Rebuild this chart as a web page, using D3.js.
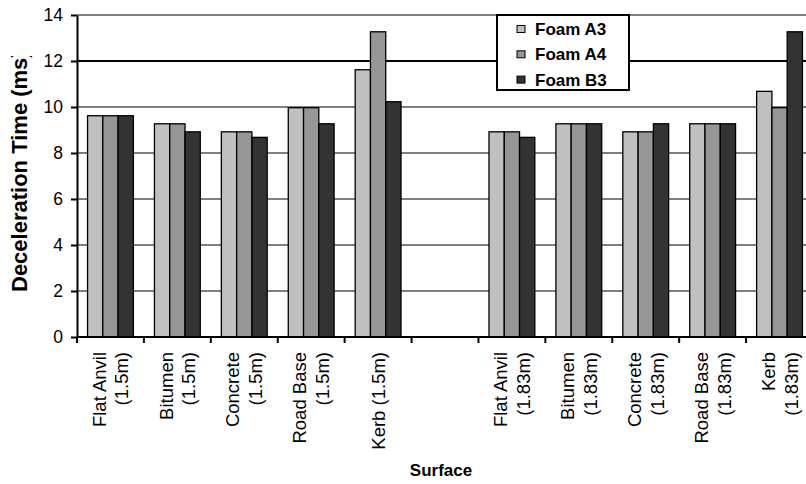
<!DOCTYPE html>
<html>
<head>
<meta charset="utf-8">
<script src="https://cdn.jsdelivr.net/npm/d3@7"></script>
<style>
  body { margin: 0; background: #fff; }
  svg { display: block; }
  text { font-family: "Liberation Sans", Arial, sans-serif; fill: #000; }
</style>
</head>
<body>
<svg id="chart" width="806" height="484"></svg>
<script>
// Surface categories; "\n" marks a line break in the rotated label, "" is the spacer slot
const categories = [
  "Flat Anvil\n(1.5m)", "Bitumen\n(1.5m)", "Concrete\n(1.5m)", "Road Base\n(1.5m)", "Kerb (1.5m)",
  "",
  "Flat Anvil\n(1.83m)", "Bitumen\n(1.83m)", "Concrete\n(1.83m)", "Road Base\n(1.83m)", "Kerb\n(1.83m)"
];
const seriesNames = ["Foam A3", "Foam A4", "Foam B3"];
// Deceleration time (ms) per surface
const foamA3 = [9.62, 9.27, 8.92, 9.97, 11.62, null, 8.92, 9.27, 8.92, 9.27, 10.68];
const foamA4 = [9.62, 9.27, 8.92, 9.97, 13.27, null, 8.92, 9.27, 8.92, 9.27, 9.97];
const foamB3 = [9.62, 8.92, 8.68, 9.27, 10.23, null, 8.68, 9.27, 9.27, 9.27, 13.27];
const yTicks = [0, 2, 4, 6, 8, 10, 12, 14];
const yTitle = "Deceleration Time (ms)";
const xTitle = "Surface";

const seriesValues = [foamA3, foamA4, foamB3];
const seriesColors = ["#c0c0c0", "#969696", "#333333"];

const svg = d3.select("#chart");
const plot = { left: 77, right: 813, top: 15, bottom: 337 };

const x0 = d3.scaleBand().domain(categories).range([plot.left, plot.right]).padding(0);
const x1 = d3.scaleBand().domain(seriesNames).range([0, x0.bandwidth()])
  .paddingInner(0).paddingOuter(0.69);
const y = d3.scaleLinear().domain([0, 14]).range([plot.bottom, plot.top]);

// horizontal gridlines
svg.append("g").selectAll("line")
  .data(yTicks.filter(v => v > 0))
  .join("line")
  .attr("x1", plot.left).attr("x2", plot.right)
  .attr("y1", d => y(d)).attr("y2", d => y(d))
  .attr("stroke", d => d === 14 ? "#808080" : "#000")
  .attr("stroke-width", d => d >= 12 ? 2 : 1);

// bars
const rows = [];
categories.forEach((cat, i) => {
  seriesNames.forEach((s, j) => {
    const v = seriesValues[j][i];
    if (v != null) rows.push({ cat, s, v, color: seriesColors[j] });
  });
});
svg.append("g").selectAll("rect")
  .data(rows)
  .join("rect")
  .attr("x", d => x0(d.cat) + x1(d.s))
  .attr("y", d => y(d.v))
  .attr("width", x1.bandwidth())
  .attr("height", d => y(0) - y(d.v))
  .attr("fill", d => d.color)
  .attr("stroke", "#000")
  .attr("stroke-width", 1.3);

// y axis
const yAxis = svg.append("g")
  .attr("transform", `translate(${plot.left},0)`)
  .call(d3.axisLeft(y).tickValues(yTicks).tickSize(6).tickSizeOuter(0).tickPadding(8));
yAxis.select(".domain").attr("stroke", "#000").attr("stroke-width", 2);
yAxis.selectAll(".tick line").attr("stroke", "#000").attr("stroke-width", 2);
yAxis.selectAll(".tick text")
  .attr("font-family", "Liberation Sans, Arial, sans-serif")
  .attr("font-size", 17.5).attr("fill", "#111");

// x axis line and slot boundary ticks
const bounds = categories.map(c => x0(c)).concat([x0.range()[1]]);
const xAxis = svg.append("g");
xAxis.append("line")
  .attr("x1", plot.left).attr("x2", plot.right)
  .attr("y1", plot.bottom).attr("y2", plot.bottom)
  .attr("stroke", "#000").attr("stroke-width", 2);
xAxis.selectAll("line.tick")
  .data(bounds)
  .join("line").attr("class", "tick")
  .attr("x1", d => d).attr("x2", d => d)
  .attr("y1", plot.bottom).attr("y2", plot.bottom + 6)
  .attr("stroke", "#000").attr("stroke-width", 2);

// rotated category labels
const lineH = 22.8;
categories.forEach(cat => {
  if (!cat) return;
  const lines = cat.split("\n");
  const c = x0(cat) + x0.bandwidth() / 2;
  lines.forEach((ln, i) => {
    const bx = c + (i - (lines.length - 1) / 2) * lineH + 6.6;
    svg.append("text")
      .attr("transform", `translate(${bx},352) rotate(-90)`)
      .attr("text-anchor", "end")
      .attr("font-size", 18.5)
      .attr("fill", "#111")
      .text(ln);
  });
});

// axis titles
svg.append("defs").append("clipPath").attr("id", "ytitle-clip")
  .append("rect").attr("x", 0).attr("y", 56).attr("width", 60).attr("height", 428);
svg.append("g").attr("clip-path", "url(#ytitle-clip)")
  .append("text")
  .attr("transform", "translate(27,292) rotate(-90)")
  .attr("text-anchor", "start")
  .attr("font-size", 22).attr("font-weight", "bold")
  .text(yTitle);

svg.append("text")
  .attr("x", 441).attr("y", 476)
  .attr("text-anchor", "middle")
  .attr("font-size", 17).attr("font-weight", "bold")
  .text(xTitle);

// legend
const legend = svg.append("g");
legend.append("rect")
  .attr("x", 497).attr("y", 15).attr("width", 132).attr("height", 75)
  .attr("fill", "#fff").attr("stroke", "#000").attr("stroke-width", 2);
const rowY = d3.scalePoint().domain(seriesNames).range([29, 79.6]);
seriesNames.forEach((s, j) => {
  legend.append("rect")
    .attr("x", 517).attr("y", rowY(s) - 3.5).attr("width", 8).attr("height", 7)
    .attr("fill", seriesColors[j]).attr("stroke", "#000").attr("stroke-width", 1);
  legend.append("text")
    .attr("x", 535).attr("y", rowY(s) + 6)
    .attr("font-size", 17).attr("font-weight", "bold")
    .text(s);
});
</script>
</body>
</html>
